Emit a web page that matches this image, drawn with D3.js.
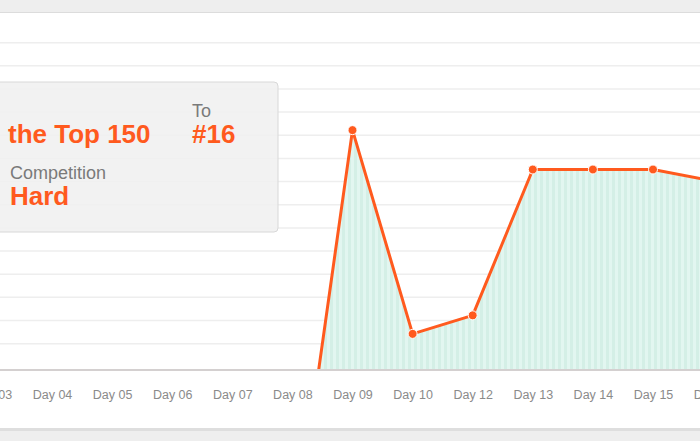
<!DOCTYPE html>
<html>
<head>
<meta charset="utf-8">
<script src="https://cdn.jsdelivr.net/npm/d3@7"></script>
<style>
  body { margin: 0; background: #eeeeee; }
  svg { display: block; font-family: "Helvetica Neue", Helvetica, Arial, sans-serif; }
  .grid line { stroke: #eeeeee; stroke-width: 1.5; }
  .grid .domain { display: none; }
  .x.axis text { fill: #8a8a8a; font-size: 12.5px; }
  .x.axis .domain { stroke: #d4d0d0; stroke-width: 2; }
</style>
</head>
<body>
<div id="main"><svg width="700" height="441"></svg></div>
<script>
// Chart data
var days = ["Day 03", "Day 04", "Day 05", "Day 06", "Day 07", "Day 08", "Day 09",
            "Day 10", "Day 12", "Day 13", "Day 14", "Day 15", "Day 16"];
var ranks = [null, null, null, null, null, 232, 48, 136, 128, 65, 65, 65, 70];
var gridRanks = [10, 20, 30, 40, 50, 60, 70, 80, 90, 100, 110, 120, 130, 140];
var maxRank = 151.6;

var tipLabels = ["To", "Competition"];
var tipValues = ["the Top 150", "#16", "Hard"];

var orange = "#ff5a1e";

// Get svg and it's dimensions
var svg = d3.select("#main").select("svg");
var svgWidth = +svg.attr("width");
var svgHeight = +svg.attr("height");

var panel = {top: 13, bottom: 428};
var plot = {top: 19, bottom: 370};

// Panel background
svg.append("rect")
    .attr("x", 0).attr("y", 0)
    .attr("width", svgWidth).attr("height", svgHeight)
    .attr("fill", "#eeeeee");

svg.append("rect")
    .attr("x", -5).attr("y", panel.bottom)
    .attr("width", svgWidth + 10).attr("height", 3)
    .attr("fill", "#dedede");

svg.append("rect")
    .attr("x", -5).attr("y", panel.top)
    .attr("width", svgWidth + 10).attr("height", panel.bottom - panel.top)
    .attr("fill", "#ffffff");

svg.append("line")
    .attr("x1", 0).attr("x2", svgWidth)
    .attr("y1", panel.top - 0.5).attr("y2", panel.top - 0.5)
    .attr("stroke", "#dcdcdc");

// Scales
var xScale = d3.scalePoint()
    .domain(days)
    .range([-8.1, 713.1]);

var yScale = d3.scaleLinear()
    .domain([0, maxRank])
    .range([plot.top, plot.bottom]);

// Stripe pattern and clip
var defs = svg.append("defs");
var pattern = defs.append("pattern")
    .attr("id", "stripes")
    .attr("patternUnits", "userSpaceOnUse")
    .attr("width", 6).attr("height", 10);
pattern.append("rect")
    .attr("width", 6).attr("height", 10)
    .attr("fill", "#e2f6f0");
pattern.append("rect")
    .attr("width", 3).attr("height", 10)
    .attr("fill", "#d4efe6");

defs.append("clipPath")
    .attr("id", "plot-clip")
    .append("rect")
    .attr("x", 0).attr("y", panel.top)
    .attr("width", svgWidth).attr("height", plot.bottom - panel.top);

// Grid lines
svg.append("g")
    .attr("class", "grid")
    .call(d3.axisLeft(yScale).tickValues(gridRanks).tickSize(-svgWidth).tickFormat(""));

var data = days.map(function(d, i) { return {day: d, rank: ranks[i]}; });

var chartG = svg.append("g").attr("clip-path", "url(#plot-clip)");

var area = d3.area()
    .defined(function(d) { return d.rank !== null; })
    .x(function(d) { return xScale(d.day); })
    .y0(yScale(maxRank))
    .y1(function(d) { return yScale(d.rank); });

var line = d3.line()
    .defined(function(d) { return d.rank !== null; })
    .x(function(d) { return xScale(d.day); })
    .y(function(d) { return yScale(d.rank); });

chartG.append("path")
    .datum(data)
    .attr("d", area)
    .attr("fill", "url(#stripes)");

chartG.append("path")
    .datum(data)
    .attr("d", line)
    .attr("fill", "none")
    .attr("stroke", orange)
    .attr("stroke-width", 3)
    .attr("stroke-linejoin", "round");

chartG.selectAll("circle")
    .data(data.filter(function(d) { return d.rank !== null; }))
    .enter().append("circle")
    .attr("cx", function(d) { return xScale(d.day); })
    .attr("cy", function(d) { return yScale(d.rank); })
    .attr("r", 4.5)
    .attr("fill", orange)
    .attr("stroke", "#ffffff")
    .attr("stroke-width", 1);

// X axis
svg.append("g")
    .attr("class", "x axis")
    .attr("transform", "translate(0," + plot.bottom + ")")
    .call(d3.axisBottom(xScale).tickSize(0).tickPadding(20))
    .select(".domain")
    .attr("d", "M-10,0H" + (svgWidth + 10));

// Tooltip box
var tip = svg.append("g").attr("class", "tip");
tip.append("rect")
    .attr("x", -10).attr("y", 82)
    .attr("width", 288).attr("height", 150)
    .attr("rx", 4)
    .attr("fill", "#f0f0f0")
    .attr("fill-opacity", 0.88)
    .attr("stroke", "#d8d8d8");

tip.append("text")
    .attr("x", 192).attr("y", 116.5)
    .attr("fill", "#7a7a7a").attr("font-size", 18)
    .text(tipLabels[0]);
tip.append("text")
    .attr("x", 10).attr("y", 179)
    .attr("fill", "#7a7a7a").attr("font-size", 18)
    .text(tipLabels[1]);

tip.append("text")
    .attr("x", 8).attr("y", 143)
    .attr("fill", orange).attr("font-size", 26).attr("font-weight", "bold")
    .text(tipValues[0]);
tip.append("text")
    .attr("x", 192).attr("y", 143)
    .attr("fill", orange).attr("font-size", 26).attr("font-weight", "bold")
    .text(tipValues[1]);
tip.append("text")
    .attr("x", 10).attr("y", 205)
    .attr("fill", orange).attr("font-size", 26).attr("font-weight", "bold")
    .text(tipValues[2]);
</script>
</body>
</html>
